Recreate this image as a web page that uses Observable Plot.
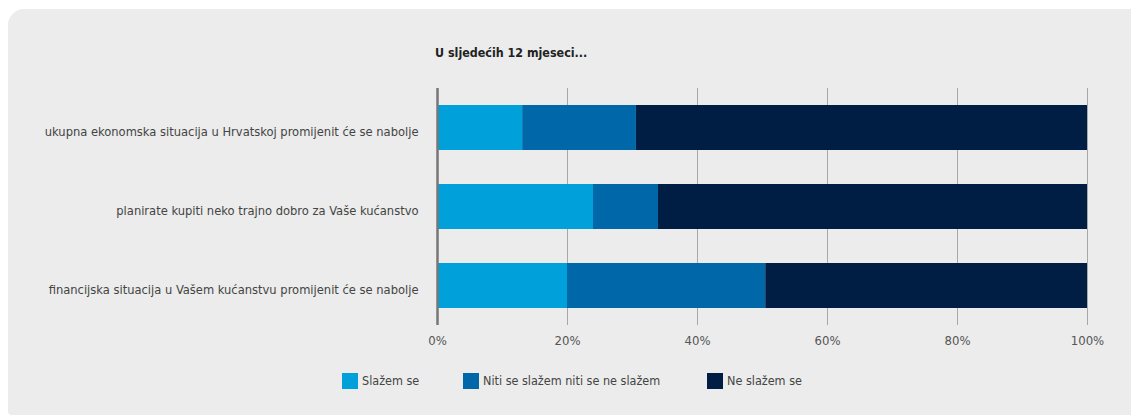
<!DOCTYPE html>
<html>
<head>
<meta charset="utf-8">
<script src="https://cdn.jsdelivr.net/npm/d3@7"></script>
<script src="https://cdn.jsdelivr.net/npm/@observablehq/plot@0.6"></script>
<style>
  html, body { margin: 0; padding: 0; background: #ffffff; }
  body { width: 1131px; height: 418px; position: relative; overflow: hidden;
         font-family: "DejaVu Sans Condensed", "DejaVu Sans", sans-serif; font-stretch: condensed; }
  #panel { position: absolute; left: 8px; top: 9px; width: 1123px; height: 406px;
           background: #ebeceb; border-radius: 16px 0 0 4px; }
  #title { position: absolute; left: 435px; top: 45px; font-size: 12.4px; font-weight: bold;
           color: #222; }
  #chart { position: absolute; left: 0; top: 0; }
  #chart svg, #chart text { font-stretch: condensed; }
  #legend { position: absolute; top: 373px; left: 0; font-size: 12.5px; color: #444; }
  .item { position: absolute; white-space: nowrap; height: 16px; line-height: 16px; }
  .sw { display: inline-block; width: 16px; height: 16px; vertical-align: top; margin-right: 4px; }
</style>
</head>
<body>
<div id="panel"></div>
<div id="title">U sljedećih 12 mjeseci...</div>
<div id="chart"></div>
<div id="legend"></div>
<script>
const categories = [
  "ukupna ekonomska situacija u Hrvatskoj promijenit će se nabolje",
  "planirate kupiti neko trajno dobro za Vaše kućanstvo",
  "financijska situacija u Vašem kućanstvu promijenit će se nabolje"
];
const seriesNames = ["Slažem se", "Niti se slažem niti se ne slažem", "Ne slažem se"];
const agree    = [13.1, 24.0, 20.0];
const neutral  = [17.5, 10.0, 30.5];
const disagree = [69.4, 66.0, 49.5];
const colors = ["#00a0da", "#0067a9", "#001d43"];
const tickValues = [0, 20, 40, 60, 80, 100];
const tickLabels = ["0%", "20%", "40%", "60%", "80%", "100%"];

const seriesValues = [agree, neutral, disagree];
const data = [];
categories.forEach((c, i) => {
  seriesNames.forEach((s, j) => {
    data.push({category: c, series: s, value: seriesValues[j][i]});
  });
});

const plot = Plot.plot({
  width: 1131,
  height: 360,
  marginLeft: 437,
  marginRight: 44,
  marginTop: 88,
  marginBottom: 35,
  style: { background: "transparent", fontFamily: "'DejaVu Sans Condensed', 'DejaVu Sans', sans-serif", fontStretch: "condensed" },
  x: { domain: [0, 100], ticks: tickValues },
  y: { domain: categories, paddingInner: 0.43, paddingOuter: 0.215, label: null },
  color: { domain: seriesNames, range: colors },
  marks: [
    Plot.gridX(tickValues, { stroke: "#a8a8a8", strokeOpacity: 1, strokeWidth: 1 }),
    Plot.barX(data, Plot.stackX({ y: "category", x: "value", fill: "series", order: seriesNames })),
    Plot.ruleX([0], { stroke: "#777", strokeWidth: 2.5 }),
    Plot.axisX({ ticks: tickValues, tickSize: 0, tickPadding: 10, fontSize: 13, color: "#555",
                 tickFormat: d => tickLabels[tickValues.indexOf(d)], label: null }),
    Plot.axisY({ tickSize: 0, tickPadding: 19, fontSize: 12.8, dy: 3.5, color: "#444", label: null })
  ]
});
document.getElementById("chart").appendChild(plot);

const legendX = [342, 463, 707];
const legend = document.getElementById("legend");
seriesNames.forEach((s, j) => {
  const it = document.createElement("div");
  it.className = "item";
  it.style.left = legendX[j] + "px";
  it.innerHTML = `<span class="sw" style="background:${colors[j]}"></span>${s}`;
  legend.appendChild(it);
});
</script>
</body>
</html>
